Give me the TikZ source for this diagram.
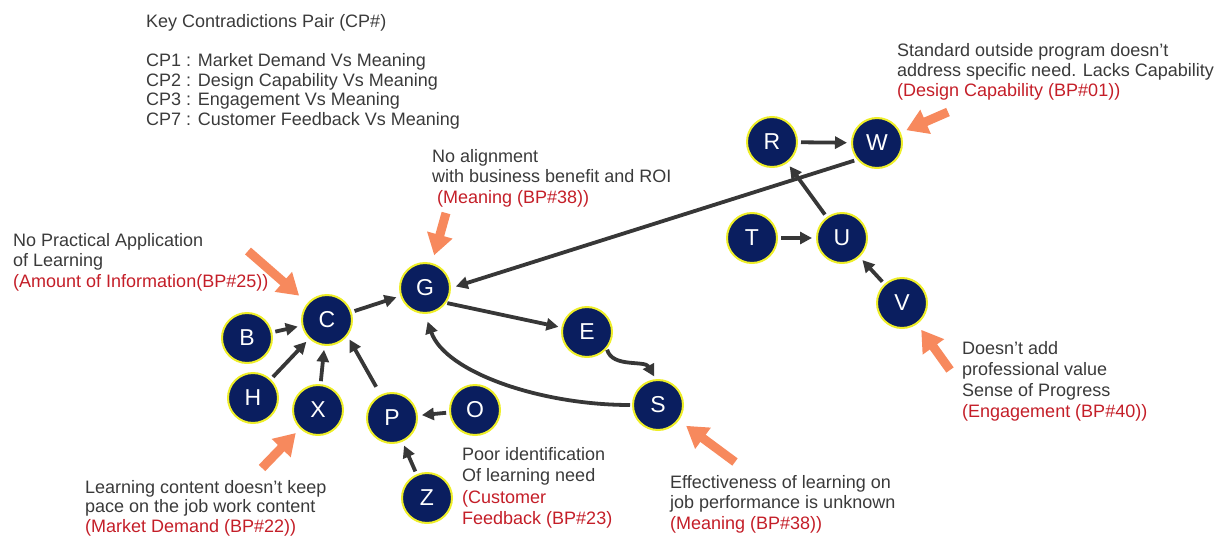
\documentclass[tikz,border=0pt]{standalone}
\usepackage{fontspec}
\setmainfont{Liberation Sans}
\usetikzlibrary{arrows.meta}
\definecolor{navy}{RGB}{10,30,95}
\definecolor{ringyellow}{RGB}{238,238,40}
\definecolor{linkgray}{RGB}{55,55,55}
\definecolor{textgray}{RGB}{58,58,58}
\definecolor{bpred}{RGB}{196,30,40}
\definecolor{callorange}{RGB}{247,137,93}
\newcommand{\bp}[1]{{\color{bpred}#1}}
\begin{document}
\begin{tikzpicture}[x=1pt,y=-1pt,
  factor/.style={circle, fill=navy, draw=ringyellow, line width=2pt,
    minimum size=50pt, inner sep=0pt, text=white,
    font=\fontsize{23}{23}\selectfont},
  link/.style={draw=linkgray, line width=3.8pt,
    -{Triangle[length=12pt,width=12pt]}, shorten >=4pt, shorten <=3pt},
  callout/.style={draw=callorange, line width=9pt,
    -{Triangle[length=21pt,width=25pt]}},
  % multi-line notes are anchored at the baseline of their last line
  note/.style={anchor=base west, inner sep=0pt, align=left, text=textgray,
    font=\fontsize{18}{20.5}\selectfont},
]
\useasboundingbox (0,0) rectangle (1219,541);

% factor nodes
\node[factor] (R) at (772,142) {R};
\node[factor] (W) at (877,143) {W};
\node[factor] (T) at (752,238) {T};
\node[factor] (U) at (842,238) {U};
\node[factor] (V) at (902,303) {V};
\node[factor] (G) at (425,288) {G};
\node[factor] (C) at (327,320) {C};
\node[factor] (B) at (247,338) {B};
\node[factor] (H) at (253,398) {H};
\node[factor] (X) at (318,410) {X};
\node[factor] (P) at (392,418) {P};
\node[factor] (O) at (475,410) {O};
\node[factor] (Z) at (427,498) {Z};
\node[factor] (E) at (587,332) {E};
\node[factor] (S) at (658,405) {S};

% causal links
\draw[link] (B) -- (C);
\draw[link] (H) -- (C);
\draw[link] (X) -- (C);
\draw[link, shorten <=9pt] (P.116) -- (C.-38);
\draw[link] (C) -- (G);
\draw[link, shorten <=1pt, shorten >=3pt] (G.-35) -- (E.170);
\draw[link] (O) -- (P);
\draw[link] (Z) -- (P);
\draw[link, shorten >=5pt] (W.220) -- (G.east);
\draw[link] (R) -- (W);
\draw[link] (U) -- (R);
\draw[link] (T) -- (U);
\draw[link] (V) -- (U);
\draw[link, shorten <=1pt, shorten >=3pt] (E.-40) .. controls (612,368) and (645,360) .. (S.95);
\draw[link, shorten <=2pt, shorten >=8pt] (S.west) .. controls (540,405) and (445,372) .. (G.south);

% callout arrows
\coordinate (oC) at (248,251);
\coordinate (oG) at (446,213);
\coordinate (oX) at (262,468);
\coordinate (oS) at (735,462);
\coordinate (oV) at (950,370);
\coordinate (oW) at (948,112);
\draw[callout, shorten >=11pt] (oC) -- (C);
\draw[callout, shorten >=8pt] (oG) -- (G);
\draw[callout, shorten >=6pt] (oX) -- (X);
\draw[callout, shorten >=9pt] (oS) -- (S);
\draw[callout, shorten >=7pt] (oV) -- (V);
\draw[callout, shorten >=6pt] (oW) -- (W);

% texts
\node[note, font=\fontsize{18}{19.6}\selectfont] (key) at (146,125.5)
  {Key Contradictions Pair (CP\#)\\[19.6pt]
   CP1 : Market Demand Vs Meaning\\
   CP2 : Design Capability Vs Meaning\\
   CP3 : Engagement Vs Meaning\\
   CP7 : Customer Feedback Vs Meaning};
\node[note, font=\fontsize{18}{20}\selectfont] (nW) at (897,96)
  {Standard outside program doesn't\\
   address specific need. Lacks Capability\\
   \bp{(Design Capability (BP\#01))}};
\node[note] (nC) at (13,287)
  {No Practical Application\\
   of Learning\\
   \bp{(Amount of Information(BP\#25))}};
\node[note] (nG) at (432,203)
  {No alignment\\
   with business benefit and ROI\\
   \hspace*{5pt}\bp{(Meaning (BP\#38))}};
\node[note, font=\fontsize{18}{19.5}\selectfont] (nX) at (85,532)
  {Learning content doesn't keep\\
   pace on the job work content\\
   \bp{(Market Demand (BP\#22))}};
\node[note, font=\fontsize{18}{21.5}\selectfont] (nP) at (462,524.5)
  {Poor identification\\
   Of learning need\\
   \bp{(Customer}\\
   \bp{Feedback (BP\#23)}};
\node[note] (nS) at (670,529)
  {Effectiveness of learning on\\
   job performance is unknown\\
   \bp{(Meaning (BP\#38))}};
\node[note, font=\fontsize{18}{20.7}\selectfont] (nV) at (962,417)
  {Doesn't add\\
   professional value\\
   Sense of Progress\\
   \bp{(Engagement (BP\#40))}};
\end{tikzpicture}
\end{document}
